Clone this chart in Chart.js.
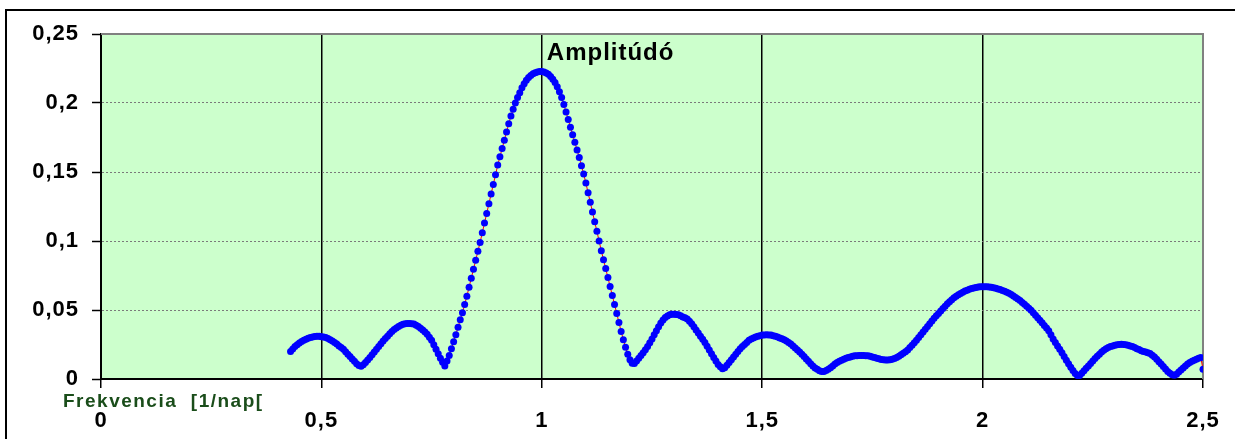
<!DOCTYPE html>
<html>
<head>
<meta charset="utf-8">
<script src="https://cdn.jsdelivr.net/npm/chart.js@4.4.0/dist/chart.umd.min.js"></script>
<style>
  html, body { margin: 0; padding: 0; background: #ffffff; overflow: hidden; }
  #wrap { position: relative; width: 1235px; height: 439px; }
  #frame { position: absolute; left: 5px; top: 9px; width: 1300px; height: 500px; border: 2px solid #000; }
  #c { position: absolute; left: 0; top: 0; }
</style>
</head>
<body>
<div id="wrap">
  <div id="frame"></div>
  <canvas id="c" width="1235" height="439"></canvas>
</div>
<script>
// Frequency samples [1/nap]
const freq = [
  0.430,0.435,0.440,0.445,0.450,0.455,0.460,0.465,0.470,0.475,0.480,0.485,0.490,0.495,
  0.500,0.505,0.510,0.515,0.520,0.525,0.530,0.535,0.540,0.545,0.550,0.555,0.560,0.565,0.570,0.575,0.580,0.585,0.590,0.595,
  0.600,0.605,0.610,0.615,0.620,0.625,0.630,0.635,0.640,0.645,0.650,0.655,0.660,0.665,0.670,0.675,0.680,0.685,0.690,0.695,
  0.700,0.705,0.710,0.715,0.720,0.725,0.730,0.735,0.740,0.745,0.750,0.755,0.760,0.765,0.770,0.775,0.780,0.785,0.790,0.795,
  0.800,0.805,0.810,0.815,0.820,0.825,0.830,0.835,0.840,0.845,0.850,0.855,0.860,0.865,0.870,0.875,0.880,0.885,0.890,0.895,
  0.900,0.905,0.910,0.915,0.920,0.925,0.930,0.935,0.940,0.945,0.950,0.955,0.960,0.965,0.970,0.975,0.980,0.985,0.990,0.995,
  1.000,1.005,1.010,1.015,1.020,1.025,1.030,1.035,1.040,1.045,1.050,1.055,1.060,1.065,1.070,1.075,1.080,1.085,1.090,1.095,
  1.100,1.105,1.110,1.115,1.120,1.125,1.130,1.135,1.140,1.145,1.150,1.155,1.160,1.165,1.170,1.175,1.180,1.185,1.190,1.195,
  1.200,1.205,1.210,1.215,1.220,1.225,1.230,1.235,1.240,1.245,1.250,1.255,1.260,1.265,1.270,1.275,1.280,1.285,1.290,1.295,
  1.300,1.305,1.310,1.315,1.320,1.325,1.330,1.335,1.340,1.345,1.350,1.355,1.360,1.365,1.370,1.375,1.380,1.385,1.390,1.395,
  1.400,1.405,1.410,1.415,1.420,1.425,1.430,1.435,1.440,1.445,1.450,1.455,1.460,1.465,1.470,1.475,1.480,1.485,1.490,1.495,
  1.500,1.505,1.510,1.515,1.520,1.525,1.530,1.535,1.540,1.545,1.550,1.555,1.560,1.565,1.570,1.575,1.580,1.585,1.590,1.595,
  1.600,1.605,1.610,1.615,1.620,1.625,1.630,1.635,1.640,1.645,1.650,1.655,1.660,1.665,1.670,1.675,1.680,1.685,1.690,1.695,
  1.700,1.705,1.710,1.715,1.720,1.725,1.730,1.735,1.740,1.745,1.750,1.755,1.760,1.765,1.770,1.775,1.780,1.785,1.790,1.795,
  1.800,1.805,1.810,1.815,1.820,1.825,1.830,1.835,1.840,1.845,1.850,1.855,1.860,1.865,1.870,1.875,1.880,1.885,1.890,1.895,
  1.900,1.905,1.910,1.915,1.920,1.925,1.930,1.935,1.940,1.945,1.950,1.955,1.960,1.965,1.970,1.975,1.980,1.985,1.990,1.995,
  2.000,2.005,2.010,2.015,2.020,2.025,2.030,2.035,2.040,2.045,2.050,2.055,2.060,2.065,2.070,2.075,2.080,2.085,2.090,2.095,
  2.100,2.105,2.110,2.115,2.120,2.125,2.130,2.135,2.140,2.145,2.150,2.155,2.160,2.165,2.170,2.175,2.180,2.185,2.190,2.195,
  2.200,2.205,2.210,2.215,2.220,2.225,2.230,2.235,2.240,2.245,2.250,2.255,2.260,2.265,2.270,2.275,2.280,2.285,2.290,2.295,
  2.300,2.305,2.310,2.315,2.320,2.325,2.330,2.335,2.340,2.345,2.350,2.355,2.360,2.365,2.370,2.375,2.380,2.385,2.390,2.395,
  2.400,2.405,2.410,2.415,2.420,2.425,2.430,2.435,2.440,2.445,2.450,2.455,2.460,2.465,2.470,2.475,2.480,2.485,2.490,2.495,
  2.500
];

// Spectrum amplitude at each frequency
const amp = [
  0.0200,0.0218,0.0235,0.0248,0.0260,0.0271,0.0280,0.0288,0.0295,0.0300,0.0305,0.0308,0.0310,0.0309,
  0.0307,0.0304,0.0300,0.0293,0.0285,0.0276,0.0265,0.0253,0.0240,0.0228,0.0215,0.0198,0.0180,0.0163,0.0145,0.0128,0.0110,0.0097,0.0092,0.0104,
  0.0120,0.0137,0.0155,0.0175,0.0195,0.0215,0.0235,0.0255,0.0275,0.0293,0.0310,0.0328,0.0345,0.0358,0.0370,0.0381,0.0390,0.0396,0.0400,0.0402,
  0.0403,0.0401,0.0398,0.0390,0.0380,0.0368,0.0355,0.0341,0.0325,0.0303,0.0280,0.0248,0.0215,0.0183,0.0150,0.0122,0.0095,0.0130,0.0170,0.0220,
  0.0270,0.0320,0.0375,0.0430,0.0480,0.0540,0.0600,0.0665,0.0730,0.0795,0.0860,0.0925,0.0990,0.1060,0.1130,0.1200,0.1270,0.1340,0.1410,0.1480,
  0.1550,0.1610,0.1670,0.1730,0.1790,0.1850,0.1905,0.1955,0.2000,0.2040,0.2075,0.2110,0.2140,0.2165,0.2185,0.2200,0.2212,0.2220,0.2225,0.2228,
  0.2228,0.2225,0.2218,0.2208,0.2192,0.2172,0.2148,0.2118,0.2082,0.2040,0.1990,0.1935,0.1880,0.1825,0.1770,0.1715,0.1660,0.1605,0.1545,0.1485,
  0.1420,0.1350,0.1280,0.1210,0.1140,0.1070,0.1000,0.0930,0.0865,0.0800,0.0735,0.0670,0.0605,0.0540,0.0475,0.0410,0.0345,0.0285,0.0230,0.0180,
  0.0140,0.0115,0.0112,0.0130,0.0150,0.0170,0.0190,0.0212,0.0235,0.0262,0.0290,0.0320,0.0350,0.0378,0.0405,0.0427,0.0445,0.0457,0.0465,0.0469,
  0.0470,0.0468,0.0465,0.0458,0.0450,0.0443,0.0435,0.0418,0.0400,0.0378,0.0355,0.0333,0.0310,0.0288,0.0265,0.0238,0.0210,0.0183,0.0155,0.0130,
  0.0105,0.0088,0.0075,0.0082,0.0100,0.0120,0.0140,0.0160,0.0180,0.0200,0.0220,0.0235,0.0250,0.0265,0.0280,0.0289,0.0298,0.0304,0.0310,0.0314,
  0.0318,0.0319,0.0320,0.0319,0.0318,0.0314,0.0310,0.0304,0.0298,0.0292,0.0285,0.0275,0.0265,0.0253,0.0240,0.0225,0.0210,0.0195,0.0180,0.0163,
  0.0145,0.0128,0.0110,0.0095,0.0080,0.0070,0.0060,0.0055,0.0055,0.0061,0.0070,0.0082,0.0095,0.0108,0.0120,0.0128,0.0135,0.0143,0.0150,0.0155,
  0.0160,0.0164,0.0168,0.0169,0.0170,0.0170,0.0170,0.0169,0.0168,0.0164,0.0160,0.0155,0.0150,0.0146,0.0142,0.0140,0.0138,0.0138,0.0140,0.0143,
  0.0148,0.0156,0.0165,0.0175,0.0186,0.0198,0.0210,0.0228,0.0245,0.0262,0.0280,0.0300,0.0320,0.0340,0.0360,0.0380,0.0400,0.0420,0.0440,0.0458,
  0.0475,0.0493,0.0510,0.0528,0.0545,0.0560,0.0575,0.0588,0.0600,0.0610,0.0620,0.0629,0.0638,0.0644,0.0650,0.0655,0.0660,0.0663,0.0666,0.0668,
  0.0669,0.0669,0.0669,0.0667,0.0665,0.0662,0.0658,0.0653,0.0648,0.0642,0.0635,0.0629,0.0622,0.0612,0.0602,0.0591,0.0580,0.0568,0.0555,0.0542,
  0.0528,0.0513,0.0498,0.0480,0.0462,0.0444,0.0425,0.0407,0.0388,0.0369,0.0350,0.0320,0.0290,0.0265,0.0240,0.0215,0.0190,0.0163,0.0135,0.0110,
  0.0085,0.0062,0.0040,0.0025,0.0025,0.0042,0.0060,0.0078,0.0095,0.0113,0.0130,0.0148,0.0165,0.0180,0.0195,0.0208,0.0220,0.0228,0.0235,0.0240,
  0.0245,0.0248,0.0250,0.0251,0.0250,0.0248,0.0245,0.0240,0.0235,0.0228,0.0220,0.0213,0.0205,0.0200,0.0195,0.0190,0.0185,0.0173,0.0160,0.0143,
  0.0125,0.0108,0.0090,0.0073,0.0055,0.0042,0.0030,0.0028,0.0035,0.0050,0.0065,0.0080,0.0095,0.0108,0.0120,0.0128,0.0135,0.0143,0.0150,0.0156,
  0.0070
];

// Axis ticks and labels (decimal comma)
const xTickValues = [0, 0.5, 1, 1.5, 2, 2.5];
const xTickLabels = ['0', '0,5', '1', '1,5', '2', '2,5'];
const yTickValues = [0, 0.05, 0.1, 0.15, 0.2, 0.25];
const yTickLabels = ['0', '0,05', '0,1', '0,15', '0,2', '0,25'];

const yTitle = 'Amplitúdó';
const xTitle = 'Frekvencia  [1/nap[';

const FONT = "'Liberation Sans', Arial, Helvetica, sans-serif";

const plotFrame = {
  id: 'plotFrame',
  beforeDraw(chart) {
    const { ctx, chartArea: a } = chart;
    // slightly widened lettering for all chart text
    ctx.letterSpacing = '1px';
    ctx.save();
    ctx.fillStyle = '#ccffcc';
    ctx.fillRect(a.left, a.top, a.right - a.left, a.bottom - a.top);
    ctx.restore();
  },
  beforeDatasetsDraw(chart) {
    const { ctx, chartArea: a } = chart;
    ctx.save();
    ctx.strokeStyle = '#808080';
    ctx.lineWidth = 2;
    ctx.beginPath();
    ctx.moveTo(a.left, a.top);
    ctx.lineTo(a.right, a.top);
    ctx.lineTo(a.right, a.bottom);
    ctx.stroke();
    ctx.restore();
  },
  afterDraw(chart) {
    const { ctx, chartArea: a, scales } = chart;
    ctx.save();
    ctx.textBaseline = 'alphabetic';
    ctx.textAlign = 'left';
    ctx.fillStyle = '#000000';
    ctx.letterSpacing = '1px';
    ctx.font = 'bold 24px ' + FONT;
    ctx.fillText(yTitle, scales.x.getPixelForValue(1) + 5, a.top + 26);
    ctx.fillStyle = '#1a4d1a';
    ctx.letterSpacing = '1.5px';
    ctx.font = 'bold 19px ' + FONT;
    ctx.fillText(xTitle, a.left - 38, a.bottom + 28);
    ctx.restore();
  }
};

const isEdge = (v, lo, hi) => Math.abs(v - lo) < 1e-9 || Math.abs(v - hi) < 1e-9;

new Chart(document.getElementById('c'), {
  type: 'scatter',
  data: {
    datasets: [{
      data: freq.map((f, i) => ({ x: f, y: amp[i] })),
      showLine: true,
      borderColor: '#ff0000',
      borderWidth: 1,
      tension: 0,
      pointRadius: 3.5,
      pointHoverRadius: 3.5,
      pointBorderWidth: 0,
      pointBackgroundColor: '#0000ff'
    }]
  },
  options: {
    responsive: false,
    animation: false,
    events: [],
    layout: { padding: { left: 0, top: 34, right: 32, bottom: 0 } },
    plugins: { legend: { display: false }, tooltip: { enabled: false }, title: { display: false } },
    scales: {
      x: {
        type: 'linear',
        min: 0,
        max: 2.5,
        afterBuildTicks: s => { s.ticks = xTickValues.map(v => ({ value: v })); },
        afterFit: s => { s.height = 60; s.paddingLeft = 0; s.paddingRight = 0; },
        ticks: {
          autoSkip: false,
          maxRotation: 0,
          padding: 20,
          color: '#000000',
          font: { family: FONT, size: 22, weight: 'bold' },
          callback: (v, i) => xTickLabels[i]
        },
        grid: {
          color: c => (c.tick && isEdge(c.tick.value, 0, 2.5)) ? 'rgba(0,0,0,0)' : '#000000',
          lineWidth: 1.5,
          tickColor: '#000000',
          tickLength: 9,
          tickWidth: 1.5
        },
        border: { color: '#000000', width: 2 }
      },
      y: {
        type: 'linear',
        min: 0,
        max: 0.25,
        afterBuildTicks: s => { s.ticks = yTickValues.map(v => ({ value: v })); },
        afterFit: s => { s.width = 101; s.paddingTop = 0; s.paddingBottom = 0; },
        ticks: {
          padding: 13,
          color: '#000000',
          font: { family: FONT, size: 22, weight: 'bold' },
          callback: (v, i) => yTickLabels[i]
        },
        grid: {
          color: c => (c.tick && isEdge(c.tick.value, 0, 0.25)) ? 'rgba(0,0,0,0)' : '#7a7a7a',
          lineWidth: 1,
          tickColor: '#000000',
          tickLength: 9,
          tickWidth: 1.5
        },
        border: { color: '#000000', width: 2, dash: [2, 2] }
      }
    }
  },
  plugins: [plotFrame]
});
</script>
</body>
</html>
